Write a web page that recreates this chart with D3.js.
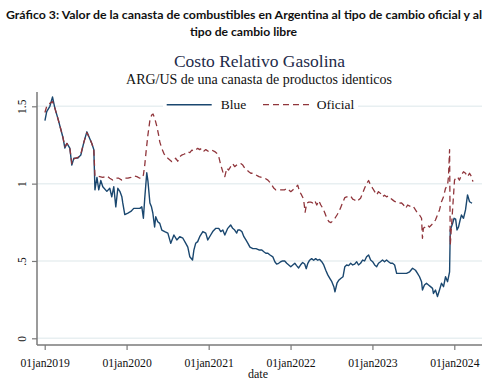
<!DOCTYPE html>
<html>
<head>
<meta charset="utf-8">
<script src="https://cdn.jsdelivr.net/npm/d3@7"></script>
<style>
  html, body { margin: 0; padding: 0; background: #ffffff; }
  svg { display: block; }
</style>
</head>
<body>
<script>
// ---------------- DATA ----------------
const headerLines = [
  "Gráfico 3: Valor de la canasta de combustibles en Argentina al tipo de cambio oficial y al",
  "tipo de cambio libre"
];
const chartTitle = "Costo Relativo Gasolina";
const chartSubtitle = "ARG/US de una canasta de productos identicos";
const seriesNames = ["Blue", "Oficial"];
const xAxisTitle = "date";

const yTickValues = [0, 0.5, 1, 1.5];
const yTickLabels = ["0", ".5", "1", "1.5"];
const xTickDates = ["2019-01-01", "2020-01-01", "2021-01-01", "2022-01-01", "2023-01-01", "2024-01-01"];
const xTickLabels = ["01jan2019", "01jan2020", "01jan2021", "01jan2022", "01jan2023", "01jan2024"];

const blueDates = [
"2019-01-02","2019-01-10","2019-01-24","2019-02-05","2019-02-15","2019-03-01","2019-03-14","2019-03-23","2019-04-01","2019-04-10",
"2019-04-23","2019-05-02","2019-05-11","2019-05-29","2019-06-11","2019-06-25","2019-07-08","2019-07-21","2019-07-30","2019-08-08",
"2019-08-13","2019-08-22","2019-08-30","2019-09-08","2019-09-17","2019-10-05","2019-10-18","2019-10-27","2019-11-05","2019-11-14",
"2019-11-23","2019-12-02","2019-12-11","2019-12-15","2019-12-24",
"2020-01-07","2020-01-20","2020-02-02","2020-02-16","2020-02-29","2020-03-09","2020-03-16","2020-03-22","2020-03-31","2020-04-05",
"2020-04-14","2020-04-21","2020-04-27","2020-05-05","2020-05-10","2020-05-19","2020-05-28","2020-06-06","2020-06-19","2020-07-03",
"2020-07-16","2020-07-30","2020-08-12","2020-08-25","2020-09-08","2020-09-21","2020-09-30","2020-10-09","2020-10-21","2020-10-27",
"2020-11-04","2020-11-13","2020-11-22","2020-12-06","2020-12-19","2020-12-28",
"2021-01-10","2021-01-19","2021-02-02","2021-02-15","2021-02-24","2021-03-05","2021-03-14","2021-03-27","2021-04-09","2021-04-18",
"2021-04-27","2021-05-06","2021-05-11","2021-05-20","2021-05-29","2021-06-07","2021-06-16","2021-06-25","2021-07-04","2021-07-17",
"2021-07-31","2021-08-13","2021-08-26","2021-09-04","2021-09-13","2021-09-22","2021-09-30","2021-10-14","2021-10-23","2021-10-31",
"2021-11-09","2021-11-18","2021-11-27","2021-12-06","2021-12-15","2021-12-24",
"2022-01-02","2022-01-11","2022-01-20","2022-01-28","2022-02-06","2022-02-15","2022-02-24","2022-03-05","2022-03-12","2022-03-19",
"2022-03-27","2022-04-05","2022-04-14","2022-04-23","2022-05-02","2022-05-11","2022-05-20","2022-05-29","2022-06-07","2022-06-16",
"2022-06-25","2022-07-04","2022-07-13","2022-07-18","2022-07-27","2022-08-05","2022-08-14","2022-08-23","2022-08-31","2022-09-08",
"2022-09-17","2022-09-26","2022-10-05","2022-10-14","2022-10-23","2022-10-31","2022-11-09","2022-11-18","2022-11-27","2022-12-06",
"2022-12-15","2022-12-24",
"2023-01-02","2023-01-11","2023-01-20","2023-01-28","2023-02-06","2023-02-15","2023-02-24","2023-03-05","2023-03-14","2023-03-23",
"2023-04-01","2023-04-10","2023-04-19","2023-04-28","2023-05-07","2023-05-20","2023-06-02","2023-06-16","2023-06-29","2023-07-12",
"2023-07-21","2023-07-30","2023-08-08","2023-08-12","2023-08-21","2023-08-30","2023-09-08","2023-09-17","2023-09-26","2023-09-30",
"2023-10-09","2023-10-18","2023-10-27","2023-11-05","2023-11-14","2023-11-23","2023-12-02","2023-12-11","2023-12-14","2023-12-19",
"2023-12-24","2023-12-31",
"2024-01-07","2024-01-13","2024-01-20","2024-01-27","2024-02-02","2024-02-11","2024-02-20","2024-02-29","2024-03-09","2024-03-20"
];
const blueValues = [
1.407,1.465,1.50,1.56,1.49,1.42,1.35,1.30,1.23,1.26,
1.23,1.12,1.165,1.165,1.185,1.27,1.335,1.29,1.26,1.22,
0.96,1.04,0.96,1.02,0.98,0.95,0.97,0.915,0.98,0.85,
0.97,0.95,0.915,0.875,0.80,
0.81,0.82,0.84,0.84,0.84,0.85,0.776,0.905,1.07,1.02,
0.875,0.85,0.81,0.72,0.786,0.754,0.743,0.70,0.69,0.68,
0.614,0.668,0.636,0.657,0.647,0.614,0.59,0.527,0.506,0.57,
0.614,0.625,0.657,0.69,0.68,0.636,
0.668,0.69,0.711,0.711,0.69,0.70,0.668,0.711,0.733,0.711,
0.70,0.68,0.70,0.70,0.69,0.657,0.636,0.614,0.59,0.58,
0.58,0.571,0.571,0.56,0.55,0.55,0.54,0.527,0.495,0.48,
0.485,0.495,0.50,0.50,0.485,0.474,
0.463,0.474,0.485,0.47,0.455,0.475,0.49,0.48,0.45,0.485,
0.505,0.515,0.505,0.515,0.505,0.51,0.495,0.474,0.44,0.41,
0.388,0.366,0.334,0.30,0.356,0.377,0.388,0.398,0.463,0.474,
0.47,0.485,0.474,0.48,0.495,0.474,0.485,0.506,0.50,0.527,
0.539,0.506,
0.495,0.474,0.463,0.485,0.495,0.506,0.495,0.506,0.495,0.485,
0.485,0.474,0.42,0.42,0.42,0.42,0.42,0.43,0.453,0.44,
0.42,0.398,0.366,0.312,0.345,0.356,0.345,0.334,0.323,0.29,
0.312,0.27,0.312,0.356,0.334,0.398,0.366,0.43,0.70,0.72,
0.74,0.776,
0.77,0.70,0.72,0.765,0.797,0.776,0.83,0.927,0.883,0.873
];

const oficialDates = [
"2019-01-02","2019-01-10","2019-01-24","2019-02-05","2019-02-15","2019-03-01","2019-03-14","2019-03-23","2019-04-01","2019-04-10",
"2019-04-23","2019-05-02","2019-05-11","2019-05-29","2019-06-11","2019-06-25","2019-07-08","2019-07-21","2019-07-30","2019-08-08",
"2019-08-13","2019-08-22","2019-09-17","2019-10-05","2019-10-18","2019-10-31","2019-11-14","2019-11-27","2019-12-11","2019-12-24",
"2020-01-07","2020-01-20","2020-02-02","2020-02-16","2020-02-29","2020-03-09","2020-03-16","2020-03-22","2020-03-28","2020-04-05",
"2020-04-14","2020-04-22","2020-04-28","2020-05-06","2020-05-15","2020-05-23","2020-05-28","2020-06-06","2020-06-15","2020-06-24",
"2020-07-03","2020-07-12","2020-07-21","2020-07-30","2020-08-07","2020-08-16","2020-08-25","2020-09-03","2020-09-12","2020-09-21",
"2020-09-30","2020-10-09","2020-10-18","2020-10-27","2020-11-04","2020-11-13","2020-11-22","2020-12-01","2020-12-10","2020-12-19",
"2021-01-01","2021-01-15","2021-01-28","2021-02-06","2021-02-15","2021-02-24","2021-03-05","2021-03-14","2021-03-23","2021-03-31",
"2021-04-09","2021-04-18","2021-04-27","2021-05-06","2021-05-15","2021-05-24","2021-06-02","2021-06-11","2021-06-20","2021-06-29",
"2021-07-08","2021-07-17","2021-07-31","2021-08-13","2021-08-26","2021-09-08","2021-09-22","2021-09-30","2021-10-10","2021-10-19",
"2021-10-28","2021-11-05","2021-11-18","2021-11-27","2021-12-06","2021-12-15","2021-12-24",
"2022-01-02","2022-01-11","2022-01-20","2022-02-02","2022-02-10","2022-02-19","2022-02-28","2022-03-07","2022-03-14","2022-03-23",
"2022-04-01","2022-04-10","2022-04-19","2022-04-28","2022-05-07","2022-05-16","2022-05-25","2022-06-03","2022-06-12","2022-06-21",
"2022-06-30","2022-07-09","2022-07-18","2022-07-27","2022-08-05","2022-08-14","2022-08-23","2022-08-31","2022-09-08","2022-09-17",
"2022-09-26","2022-10-05","2022-10-14","2022-10-23","2022-10-31","2022-11-09","2022-11-18","2022-11-27","2022-12-06","2022-12-15",
"2022-12-24",
"2023-01-02","2023-01-11","2023-01-20","2023-01-28","2023-02-06","2023-02-15","2023-02-24","2023-03-05","2023-03-14","2023-03-23",
"2023-04-01","2023-04-10","2023-04-19","2023-04-28","2023-05-11","2023-05-20","2023-05-29","2023-06-07","2023-06-16","2023-06-25",
"2023-07-03","2023-07-12","2023-07-21","2023-07-30","2023-08-08","2023-08-12","2023-08-16","2023-08-25","2023-09-03","2023-09-12",
"2023-09-21","2023-09-30","2023-10-09","2023-10-18","2023-10-27","2023-11-05","2023-11-14","2023-11-23","2023-12-02","2023-12-06",
"2023-12-11","2023-12-14",
"2024-01-02","2024-01-07","2024-01-15","2024-01-24","2024-02-02","2024-02-11","2024-02-20","2024-02-29","2024-03-09","2024-03-18",
"2024-03-24"
];
const oficialValues = [
1.46,1.50,1.52,1.53,1.49,1.42,1.35,1.30,1.24,1.26,
1.23,1.13,1.16,1.17,1.19,1.27,1.33,1.29,1.26,1.22,
1.05,1.05,1.04,1.05,1.035,1.023,1.035,1.035,1.023,1.035,
1.035,1.04,1.05,1.045,1.035,1.035,1.056,1.12,1.207,1.314,
1.41,1.444,1.45,1.42,1.37,1.314,1.27,1.228,1.196,1.174,
1.164,1.153,1.142,1.153,1.164,1.145,1.174,1.185,1.19,1.196,
1.207,1.20,1.217,1.21,1.217,1.228,1.22,1.228,1.21,1.22,
1.207,1.217,1.207,1.196,1.174,1.12,1.077,1.045,1.10,1.088,
1.11,1.13,1.11,1.12,1.13,1.13,1.12,1.10,1.088,1.077,
1.067,1.067,1.056,1.045,1.04,1.035,1.023,1.01,0.99,0.97,
0.959,0.959,0.96,0.959,0.96,0.97,0.959,
0.948,0.959,0.97,0.99,0.95,0.927,0.90,0.815,0.873,0.88,
0.88,0.875,0.89,0.862,0.89,0.862,0.84,0.81,0.776,0.754,
0.748,0.76,0.776,0.797,0.82,0.851,0.883,0.91,0.915,0.915,
0.92,0.90,0.894,0.883,0.894,0.905,0.937,0.97,1.0,1.02,
0.99,
0.97,0.948,0.927,0.948,0.937,0.915,0.925,0.915,0.92,0.905,
0.895,0.885,0.88,0.873,0.875,0.862,0.84,0.862,0.855,0.86,
0.851,0.83,0.81,0.797,0.776,0.647,0.711,0.72,0.733,0.72,
0.733,0.744,0.765,0.797,0.83,0.883,0.915,0.97,0.99,1.045,
1.22,0.603,
1.023,1.035,1.045,1.023,1.056,1.077,1.067,1.045,1.067,1.045,
1.013
];

// ---------------- CHART ----------------
const W = 489, H = 387;
const serif = "'Liberation Serif', 'Times New Roman', serif";
const sans = "Lato, 'Open Sans', 'Liberation Sans', sans-serif";
const blueColor = "#1a476f";
const redColor = "#90353b";
const gridColor = "#e8eff1";
const axisColor = "#7a7a7a";

const parse = d3.timeParse("%Y-%m-%d");

const svg = d3.select("body").append("svg")
  .attr("width", W).attr("height", H)
  .style("background", "#fff");

const plotLeft = 37, plotRight = 482, plotTop = 92, plotBottom = 345;

const x = d3.scaleTime()
  .domain([parse("2019-01-01"), parse("2024-01-01")])
  .range([44.7, 454.3]);
const y = d3.scaleLinear()
  .domain([0, 1.5])
  .range([338.3, 106.3]);

// Header (figure caption)
svg.append("text")
  .attr("x", 244).attr("y", 19)
  .attr("text-anchor", "middle")
  .attr("font-family", sans).attr("font-weight", "bold").attr("font-size", 12)
  .attr("textLength", 476).attr("lengthAdjust", "spacingAndGlyphs")
  .attr("fill", "#111")
  .text(headerLines[0]);
svg.append("text")
  .attr("x", 243.5).attr("y", 36)
  .attr("text-anchor", "middle")
  .attr("font-family", sans).attr("font-weight", "bold").attr("font-size", 12)
  .attr("textLength", 107).attr("lengthAdjust", "spacingAndGlyphs")
  .attr("fill", "#111")
  .text(headerLines[1]);

// Title & subtitle
svg.append("text")
  .attr("x", 259.5).attr("y", 66.5)
  .attr("text-anchor", "middle")
  .attr("font-family", serif).attr("font-size", 17.5)
  .attr("fill", "#1e2b4a")
  .text(chartTitle);
svg.append("text")
  .attr("x", 259).attr("y", 84)
  .attr("text-anchor", "middle")
  .attr("font-family", serif).attr("font-size", 14)
  .attr("fill", "#111")
  .text(chartSubtitle);

// Gridlines
svg.append("g").selectAll("line")
  .data(yTickValues)
  .join("line")
  .attr("x1", plotLeft).attr("x2", plotRight)
  .attr("y1", d => y(d)).attr("y2", d => y(d))
  .attr("stroke", gridColor).attr("stroke-width", 1.5);

// Y axis
const yAxis = d3.axisLeft(y)
  .tickValues(yTickValues)
  .tickSize(5)
  .tickFormat((d, i) => yTickLabels[i]);
const gy = svg.append("g")
  .attr("transform", `translate(${plotLeft},0)`)
  .call(yAxis);
gy.select(".domain").remove();
gy.selectAll(".tick line").attr("stroke", axisColor).attr("stroke-width", 1.2);
gy.selectAll(".tick text")
  .attr("x", 0).attr("y", 0).attr("dy", 0)
  .attr("transform", "translate(-11.5,0) rotate(-90)")
  .attr("text-anchor", "middle")
  .attr("font-family", serif).attr("font-size", 11.5)
  .attr("fill", "#111");
svg.append("line")
  .attr("x1", plotLeft).attr("x2", plotLeft)
  .attr("y1", plotTop).attr("y2", plotBottom)
  .attr("stroke", axisColor).attr("stroke-width", 1.5);

// X axis
const xTickDateObjs = xTickDates.map(parse);
const xAxis = d3.axisBottom(x)
  .tickValues(xTickDateObjs)
  .tickSize(5)
  .tickFormat((d, i) => xTickLabels[i]);
const gx = svg.append("g")
  .attr("transform", `translate(0,${plotBottom})`)
  .call(xAxis);
gx.select(".domain").remove();
gx.selectAll(".tick line").attr("stroke", axisColor).attr("stroke-width", 1.2);
gx.selectAll(".tick text")
  .attr("y", 0).attr("dy", 0)
  .attr("transform", "translate(0,21.5)")
  .attr("font-family", serif).attr("font-size", 11.7)
  .attr("fill", "#111");
svg.append("line")
  .attr("x1", plotLeft).attr("x2", plotRight)
  .attr("y1", plotBottom).attr("y2", plotBottom)
  .attr("stroke", axisColor).attr("stroke-width", 1.5);

svg.append("text")
  .attr("x", 258).attr("y", 378)
  .attr("text-anchor", "middle")
  .attr("font-family", serif).attr("font-size", 12)
  .attr("fill", "#111")
  .text(xAxisTitle);

// Lines
const blueData = blueDates.map((d, i) => ({ date: parse(d), value: blueValues[i] }));
const oficialData = oficialDates.map((d, i) => ({ date: parse(d), value: oficialValues[i] }));
const line = d3.line().x(d => x(d.date)).y(d => y(d.value));

svg.append("path")
  .datum(blueData)
  .attr("d", line)
  .attr("fill", "none")
  .attr("stroke", blueColor)
  .attr("stroke-width", 1.4)
  .attr("stroke-linejoin", "round");

svg.append("path")
  .datum(oficialData)
  .attr("d", line)
  .attr("fill", "none")
  .attr("stroke", redColor)
  .attr("stroke-width", 1.3)
  .attr("stroke-dasharray", "6,4")
  .attr("stroke-linejoin", "round");

// Legend
const lg = svg.append("g");
lg.append("rect")
  .attr("x", 163).attr("y", 96).attr("width", 195).attr("height", 17)
  .attr("fill", "#fff");
lg.append("line")
  .attr("x1", 166.7).attr("x2", 211.7).attr("y1", 104.7).attr("y2", 104.7)
  .attr("stroke", blueColor).attr("stroke-width", 1.4);
lg.append("text")
  .attr("x", 220.7).attr("y", 109)
  .attr("font-family", serif).attr("font-size", 13.5)
  .attr("fill", "#111")
  .text(seriesNames[0]);
lg.append("line")
  .attr("x1", 263).attr("x2", 310).attr("y1", 104.7).attr("y2", 104.7)
  .attr("stroke", redColor).attr("stroke-width", 1.3)
  .attr("stroke-dasharray", "6,4");
lg.append("text")
  .attr("x", 316.7).attr("y", 109)
  .attr("font-family", serif).attr("font-size", 13.5)
  .attr("fill", "#111")
  .text(seriesNames[1]);
</script>
</body>
</html>
